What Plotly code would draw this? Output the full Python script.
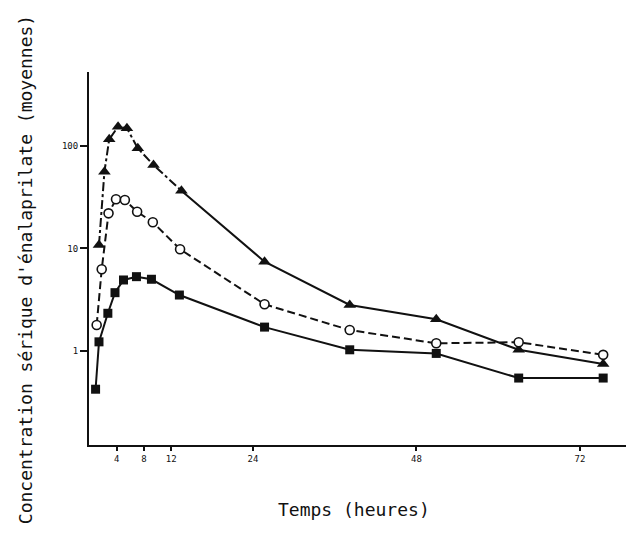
import plotly.graph_objects as go

# Sampling times (hours) and mean serum enalaprilat concentrations
t_tri = [1.4, 2.2, 2.9, 4.2, 5.5, 7.1, 9.4, 13.5, 25.7, 38.2, 50.9, 63.0, 75.4]
c_tri = [10.8, 56.2, 116.5, 154.8, 149.3, 95.1, 65.4, 36.6, 7.41, 2.80, 2.03, 1.02, 0.74]

t_circ = [1.06, 1.8, 2.8, 3.9, 5.2, 7.0, 9.3, 13.3, 25.7, 38.2, 50.9, 63.0, 75.4]
c_circ = [1.78, 6.25, 22.0, 30.2, 29.7, 22.8, 18.0, 9.8, 2.84, 1.59, 1.18, 1.21, 0.91]

t_sq = [0.9, 1.4, 2.7, 3.75, 5.0, 6.9, 9.1, 13.2, 25.7, 38.2, 50.9, 63.0, 75.4]
c_sq = [0.42, 1.22, 2.32, 3.69, 4.91, 5.29, 4.99, 3.50, 1.70, 1.02, 0.94, 0.54, 0.54]

x_ticks = [4, 8, 12, 24, 48, 72]
y_ticks = [1, 10, 100]

FONT = "DejaVu Sans Mono"
INK = "#111111"

fig = go.Figure()

# triangles: dash-dot through the absorption phase, solid afterwards
fig.add_trace(go.Scatter(x=t_tri[:8], y=c_tri[:8], mode="lines",
                         line=dict(color=INK, width=2, dash="9px,3px,3px,3px"),
                         showlegend=False, hoverinfo="skip"))
fig.add_trace(go.Scatter(x=t_tri[7:], y=c_tri[7:], mode="lines",
                         line=dict(color=INK, width=2),
                         showlegend=False, hoverinfo="skip"))
fig.add_trace(go.Scatter(x=t_tri, y=c_tri, mode="markers",
                         marker=dict(symbol="triangle-up", size=11, color=INK),
                         showlegend=False))

# open circles: dashed line
fig.add_trace(go.Scatter(x=t_circ, y=c_circ, mode="lines+markers",
                         line=dict(color=INK, width=2, dash="8px,4px"),
                         marker=dict(symbol="circle", size=9, color="white",
                                     line=dict(color=INK, width=1.6)),
                         showlegend=False))

# filled squares: solid line
fig.add_trace(go.Scatter(x=t_sq, y=c_sq, mode="lines+markers",
                         line=dict(color=INK, width=2),
                         marker=dict(symbol="square", size=9, color=INK),
                         showlegend=False))

fig.update_xaxes(range=[-0.066, 78.75], tickvals=x_ticks,
                 ticktext=[str(v) for v in x_ticks],
                 showgrid=False, zeroline=False,
                 showline=True, linecolor=INK, linewidth=2,
                 ticks="outside", ticklen=4, tickwidth=1.5, tickcolor=INK,
                 tickfont=dict(family=FONT, size=9, color=INK))
fig.update_yaxes(type="log", range=[-0.922, 2.724], tickvals=y_ticks,
                 ticktext=[str(v) for v in y_ticks],
                 showgrid=False, zeroline=False,
                 showline=True, linecolor=INK, linewidth=2,
                 ticks="outside", ticklen=7, tickwidth=1.5, tickcolor=INK,
                 tickfont=dict(family=FONT, size=9, color=INK))

fig.update_layout(
    width=626, height=542,
    margin=dict(l=89, r=0, t=72, b=97),
    plot_bgcolor="white", paper_bgcolor="white",
    annotations=[
        dict(text="Concentration sérique d'énalaprilate (moyennes)",
             xref="paper", yref="paper", x=-0.119, y=0.469,
             xanchor="center", yanchor="middle", textangle=-90,
             showarrow=False, font=dict(family=FONT, size=18, color=INK)),
        dict(text="Temps (heures)",
             xref="paper", yref="paper", x=0.4935, y=-0.1716,
             xanchor="center", yanchor="middle",
             showarrow=False, font=dict(family=FONT, size=18, color=INK)),
    ],
)

fig.write_html("out.html")
